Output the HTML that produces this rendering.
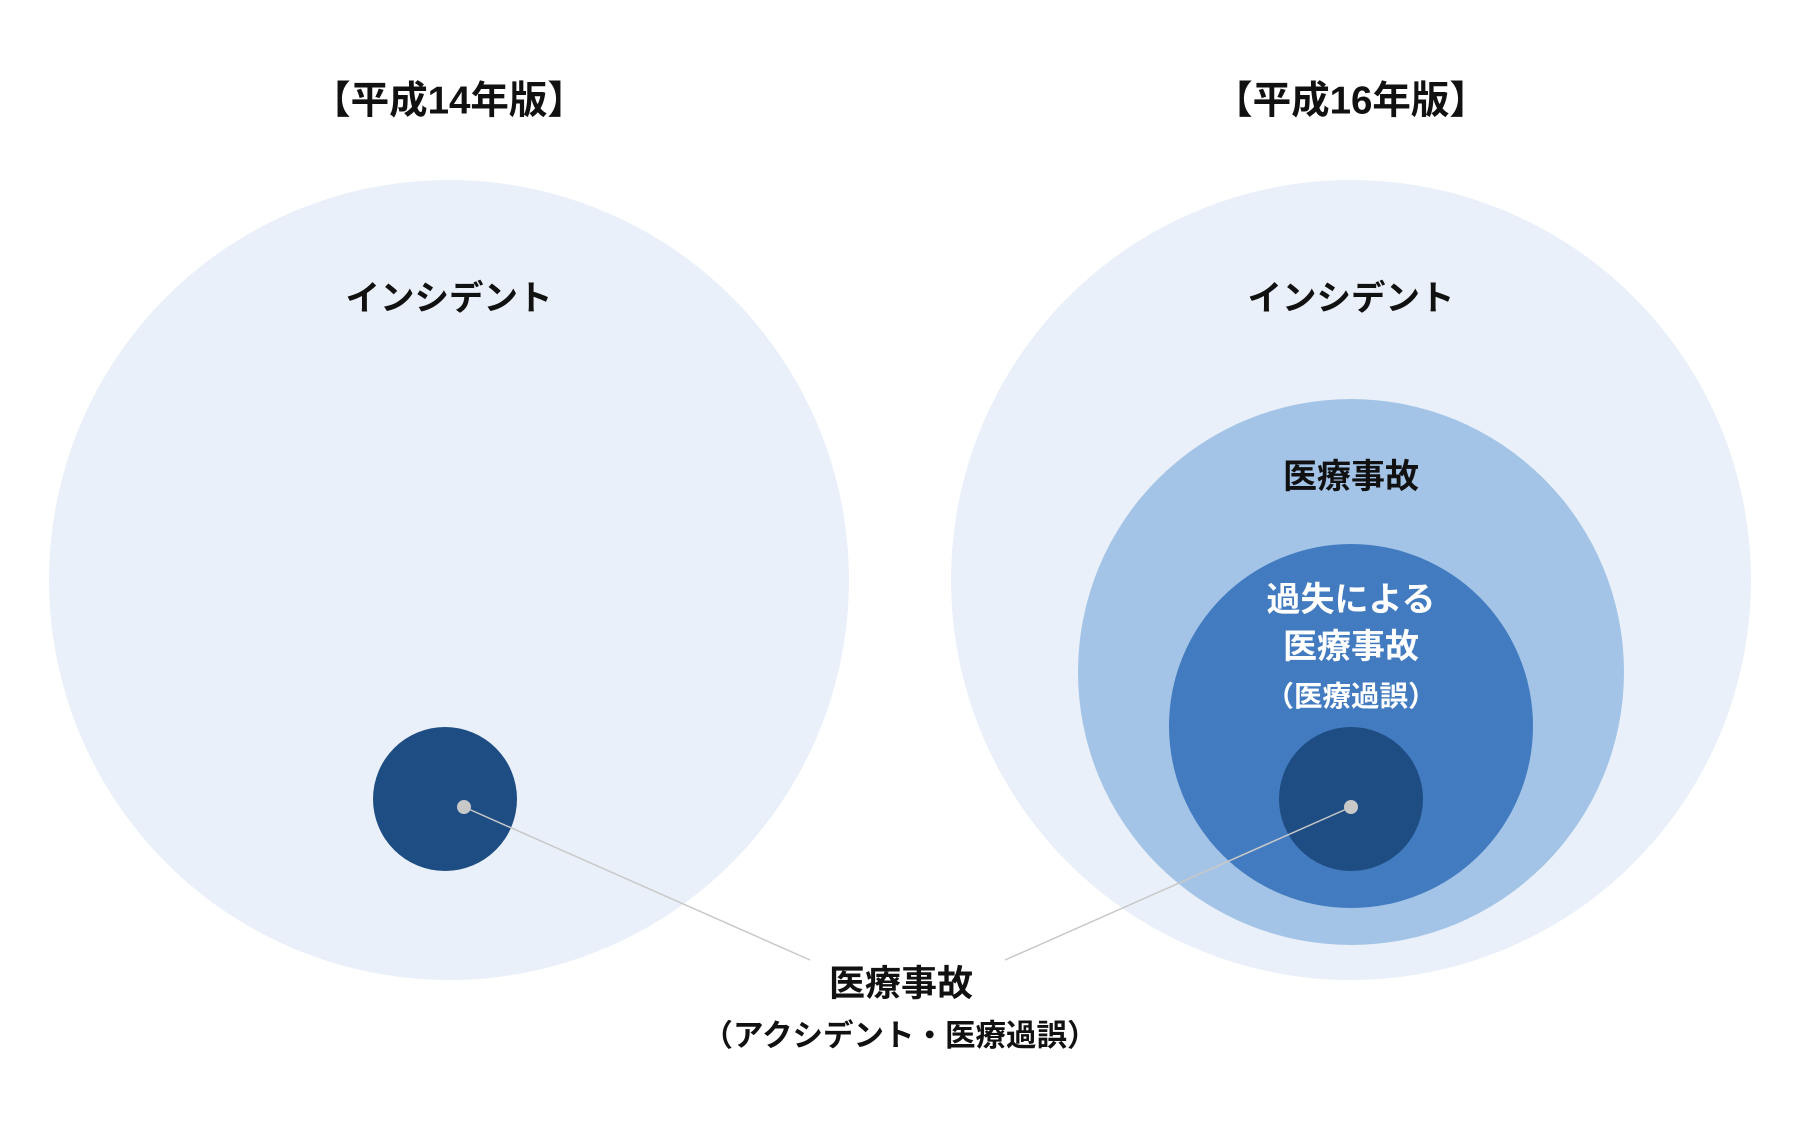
<!DOCTYPE html>
<html><head><meta charset="utf-8"><style>
html,body{margin:0;padding:0;background:#fff;}
body{width:1800px;height:1128px;overflow:hidden;}
text{font-family:"Liberation Sans","Noto Sans CJK JP",sans-serif;font-weight:bold;text-anchor:middle;dominant-baseline:central;}
</style></head><body>
<svg width="1800" height="1128" viewBox="0 0 1800 1128" xmlns="http://www.w3.org/2000/svg">
<circle cx="449" cy="580" r="400" fill="#eaf0f9"/>
<circle cx="1351" cy="580" r="400" fill="#eaf0f9"/>
<circle cx="1351" cy="672" r="273" fill="#a3c4e7"/>
<circle cx="1351" cy="726" r="182" fill="#427bbf"/>
<circle cx="1351" cy="799" r="72" fill="#1e4d84"/>
<circle cx="445" cy="799" r="72" fill="#1e4d84"/>
<line x1="464" y1="807" x2="810" y2="960" stroke="#c8c8c8" stroke-width="1.5"/>
<line x1="1351" y1="807" x2="1005" y2="960" stroke="#c8c8c8" stroke-width="1.5"/>
<circle cx="464" cy="807" r="7" fill="#c8c8c8"/>
<circle cx="1351" cy="807" r="7" fill="#c8c8c8"/>
<text x="449" y="101" font-size="38.5" fill="#111">【平成14年版】</text>
<text x="1351" y="101" font-size="38.5" fill="#111">【平成16年版】</text>
<text x="449" y="299" font-size="34.5" fill="#111">インシデント</text>
<text x="1351" y="299" font-size="34.5" fill="#111">インシデント</text>
<text x="1351" y="477" font-size="34" fill="#111">医療事故</text>
<text x="1351" y="600" font-size="34" fill="#fff">過失による</text>
<text x="1351" y="647" font-size="34" fill="#fff">医療事故</text>
<text x="1351" y="697" font-size="28.5" fill="#fff">（医療過誤）</text>
<text x="901" y="983" font-size="36" fill="#111">医療事故</text>
<text x="900" y="1036" font-size="30.5" fill="#111">（アクシデント・医療過誤）</text>
</svg>
</body></html>
